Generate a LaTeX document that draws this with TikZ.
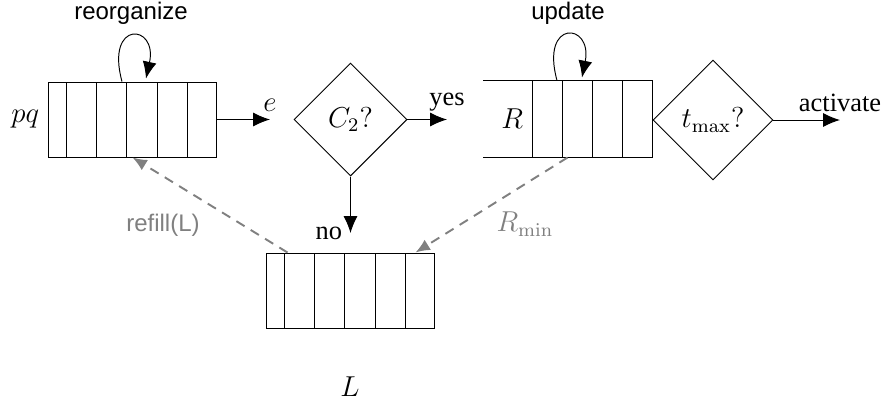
\documentclass[tikz,border=0pt]{standalone}
\usepackage[no-math]{fontspec}
\setmainfont{Liberation Serif}
\setsansfont{Liberation Sans}
\usetikzlibrary{shapes.geometric,arrows.meta,calc}

\tikzset{
  queue/.style={draw,rectangle,inner sep=0pt,minimum width=70.4pt,minimum height=31.25pt},
  test/.style={draw,diamond,inner sep=0pt,aspect=1,font=\mathsize},
  flow/.style={-{Latex[length=7pt,width=5.8pt]}},
  feed/.style={-{Latex[length=6pt,width=5pt]},gray,line width=0.8pt,dash pattern=on 4pt off 3pt},
  mathlabel/.style={font=\mathsize},
  answer/.style={font=\fontsize{11}{13}\selectfont},
}
\newcommand{\mathsize}{\fontsize{11.5}{14}\selectfont}

\begin{document}
\begin{tikzpicture}[x=0.4167pt,y=-0.4167pt]
            \useasboundingbox (0,0) rectangle (886,400);

            % Colas
            \node[queue] (pq) at (132.5,119.5) {}; % Cola pq
            \node[queue,minimum width=50pt,minimum height=31.7pt] (R) at (592,119) {}; % Cola R
            \node[queue,minimum width=70pt] (L) at (350,290.5) {}; % Cola L

            % Celdas de las colas
            \foreach \x in {66,96,126,157,187} \draw (\x,82) -- (\x,157);
            \foreach \x in {562,592,622} \draw (\x,81) -- (\x,157);
            \foreach \x in {284,314,344,375,405} \draw (\x,253) -- (\x,328);
            \draw (R.north west) -- ++(-49,0); % Parte abierta de R
            \draw (R.south west) -- ++(-49,0);

            % Etiquetas de las colas
            \node[mathlabel,left] (pqname) at (pq.west) {$pq$};
            \node[mathlabel,left] (Rname) at (R.west) {$R$};
            \node[mathlabel] (Lname) at (350,387) {$L$};

            % Condiciones
            \node[test,minimum width=47.1pt,minimum height=47.1pt] (C2) at (350.5,119.5) {$C_2?$};
            \node[test,minimum width=50pt,minimum height=50pt] (tmax) at (713,120) {$t_{\max}?$};

            % Flechas
            \coordinate (eout) at (270,119.5);
            \coordinate (yesout) at (447,119.5);
            \coordinate (noout) at (350.5,233);
            \coordinate (actout) at (840,120);
            \draw[flow] (pq.east) -- (eout) node[mathlabel,above] {$e$};
            \draw[flow] (C2.east) -- (yesout) node[answer,above] {yes};
            \draw[flow] (C2.south) -- (noout) node[answer,left] {no};
            \draw[flow] (tmax.east) -- (actout) node[answer,above] {activate};

            % Bucles
            \draw[flow] ($(pq.north)+(-10.5,0)$) .. controls ($(pq.north)+(-27.5,-62)$) and ($(pq.north)+(25.5,-58)$) .. ($(pq.north)+(13.5,-3)$);
            \node[font=\sffamily] (reorg) at (131,13) {reorganize};
            \draw[flow] ($(R.north)+(-35,0)$) .. controls ($(R.north)+(-52,-62)$) and ($(R.north)+(1,-58)$) .. ($(R.north)+(-10,-3)$);
            \node[font=\sffamily] (upd) at (568,13) {update};

            % Flechas discontinuas
            \draw[feed] ($(L.north west)+(22,0)$) -- (pq.south);
            \node[font=\sffamily,text=gray] (refill) at (163,225) {refill(L)};
            \draw[feed] ($(R.south west)+(36,0)$) -- ($(L.north east)+(-19,0)$);
            \node[mathlabel,text=gray] (rmin) at (525,224) {$R_{\min}$};
        \end{tikzpicture}
\end{document}
